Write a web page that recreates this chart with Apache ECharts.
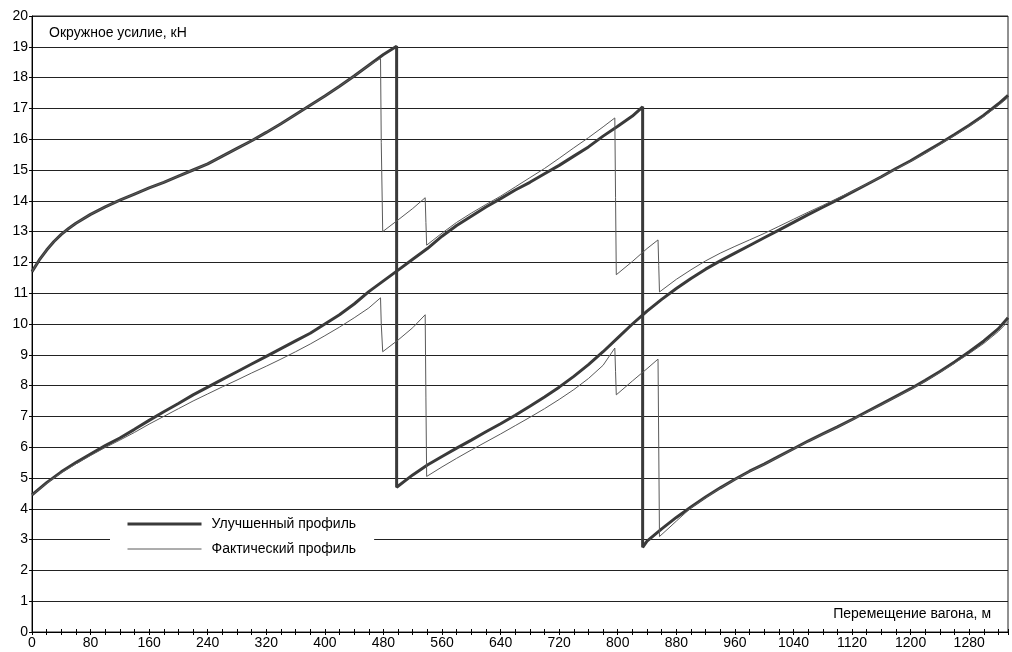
<!DOCTYPE html>
<html><head><meta charset="utf-8">
<script src="https://cdn.jsdelivr.net/npm/echarts@6/dist/echarts.min.js"></script>
<style>html,body{margin:0;padding:0;background:#fff}#c{width:1012px;height:652px}</style>
</head><body><div id="c"></div>
<script>
// Data: [distance m, force kN]
const improvedA = [[0,11.7],[10,12.08],[20,12.4],[30,12.68],[40,12.91],[50,13.1],[60,13.27],[80,13.56],[100,13.8],[120,14.02],[140,14.22],[160,14.42],[180,14.6],[200,14.8],[220,15.0],[240,15.2],[260,15.45],[280,15.7],[300,15.95],[320,16.22],[340,16.5],[360,16.8],[380,17.1],[400,17.4],[420,17.72],[440,18.05],[460,18.4],[480,18.75],[498,19.02],[498,4.7],[520,5.1],[540,5.42],[560,5.7],[580,5.97],[600,6.23],[620,6.5],[640,6.76],[660,7.04],[680,7.33],[700,7.63],[720,7.95],[740,8.3],[760,8.68],[780,9.1],[800,9.55],[820,10.0],[840,10.42],[860,10.8],[880,11.15],[900,11.48],[920,11.78],[940,12.05],[960,12.3],[980,12.55],[1000,12.8],[1020,13.05],[1040,13.3],[1060,13.55],[1080,13.79],[1100,14.03],[1120,14.28],[1140,14.53],[1160,14.78],[1180,15.05],[1200,15.3],[1220,15.58],[1240,15.86],[1260,16.15],[1280,16.45],[1300,16.78],[1320,17.15],[1333,17.42]];
const improvedB = [[0,4.45],[20,4.85],[40,5.2],[60,5.5],[80,5.78],[100,6.05],[120,6.3],[140,6.58],[160,6.87],[180,7.15],[200,7.42],[220,7.7],[240,7.95],[260,8.2],[280,8.45],[300,8.7],[320,8.95],[340,9.2],[360,9.45],[380,9.7],[400,10.0],[420,10.3],[440,10.65],[460,11.05],[480,11.4],[500,11.75],[520,12.1],[540,12.45],[560,12.85],[580,13.2],[600,13.5],[620,13.8],[640,14.07],[660,14.35],[680,14.6],[700,14.88],[720,15.15],[740,15.45],[760,15.75],[780,16.1],[800,16.42],[820,16.75],[834,17.05],[834,2.75],[840,2.95],[860,3.35],[880,3.72],[900,4.06],[920,4.38],[940,4.68],[960,4.96],[980,5.22],[1000,5.45],[1020,5.7],[1040,5.95],[1060,6.2],[1080,6.43],[1100,6.66],[1120,6.9],[1140,7.15],[1160,7.4],[1180,7.65],[1200,7.9],[1220,8.17],[1240,8.46],[1260,8.77],[1280,9.1],[1300,9.45],[1320,9.85],[1333,10.2]];
const actualA = [[0,11.7],[10,12.08],[20,12.4],[30,12.68],[40,12.91],[50,13.1],[60,13.27],[80,13.56],[100,13.8],[120,14.02],[140,14.22],[160,14.42],[180,14.6],[200,14.8],[220,15.0],[240,15.2],[260,15.45],[280,15.7],[300,15.95],[320,16.22],[340,16.5],[360,16.8],[380,17.1],[400,17.4],[420,17.72],[440,18.05],[460,18.4],[476,18.62],[477,15.9],[479,13.0],[500,13.38],[520,13.75],[537,14.1],[538,13.3],[539,12.56],[560,12.95],[580,13.3],[600,13.6],[620,13.88],[640,14.15],[660,14.45],[680,14.75],[700,15.05],[720,15.38],[740,15.72],[760,16.05],[780,16.4],[796,16.69],[797,14.1],[798,11.6],[820,12.03],[840,12.45],[855,12.73],[856,11.9],[857,11.04],[880,11.45],[900,11.76],[920,12.05],[940,12.3],[960,12.52],[980,12.73],[1000,12.94],[1020,13.17],[1040,13.4],[1060,13.63],[1080,13.85],[1100,14.08],[1120,14.3],[1140,14.54],[1160,14.78],[1180,15.03],[1200,15.28],[1220,15.55],[1240,15.83],[1260,16.12],[1280,16.42],[1300,16.74],[1320,17.1],[1333,17.35]];
const actualB = [[0,4.45],[20,4.83],[40,5.17],[60,5.46],[80,5.73],[100,5.99],[120,6.23],[140,6.48],[160,6.75],[180,7.0],[200,7.25],[220,7.5],[240,7.73],[260,7.96],[280,8.18],[300,8.41],[320,8.63],[340,8.86],[360,9.1],[380,9.35],[400,9.62],[420,9.9],[440,10.2],[460,10.52],[476,10.85],[477,10.0],[479,9.1],[500,9.48],[520,9.88],[537,10.3],[538,7.6],[539,5.05],[560,5.36],[580,5.64],[600,5.91],[620,6.17],[640,6.43],[660,6.7],[680,6.97],[700,7.25],[720,7.55],[740,7.87],[760,8.23],[780,8.66],[796,9.22],[797,8.45],[798,7.7],[820,8.15],[840,8.55],[855,8.86],[856,6.0],[857,3.1],[870,3.38],[880,3.6],[900,4.03],[920,4.36],[940,4.67],[960,4.95],[980,5.21],[1000,5.44],[1020,5.69],[1040,5.94],[1060,6.19],[1080,6.42],[1100,6.65],[1120,6.89],[1140,7.13],[1160,7.38],[1180,7.63],[1200,7.88],[1220,8.14],[1240,8.43],[1260,8.73],[1280,9.04],[1300,9.37],[1320,9.76],[1333,10.08]];

const seriesNames = ['Улучшенный профиль', 'Фактический профиль'];
const yTitle = 'Окружное усилие, кН';
const xTitle = 'Перемещение вагона, м';
const X_MAX = 1333, X_MINOR = 20, X_LABEL_STEP = 80;
const Y_MIN = 0, Y_MAX = 20, Y_STEP = 1;

const FONT = '"Liberation Sans", Arial, sans-serif';
const chart = echarts.init(document.getElementById('c'));
const thick = {color:'#3a3a3a', width:3};
const thin = {color:'#5a5a5a', width:1};
chart.setOption({
  animation:false,
  backgroundColor:'#fff',
  grid:{left:32,right:4,top:16,bottom:20,show:true,borderColor:'#222',borderWidth:1},
  xAxis:[{
    type:'value',min:0,max:X_MAX,interval:X_MINOR,position:'bottom',
    axisLine:{show:true,lineStyle:{color:'#000',width:1}},
    axisTick:{show:true,length:3,lineStyle:{color:'#000'}},
    axisLabel:{formatter:v=> (v % X_LABEL_STEP === 0 ? String(v) : ''),margin:4,color:'#000',fontSize:14,fontFamily:FONT},
    splitLine:{show:false}
  },{
    type:'value',min:0,max:X_MAX,interval:X_MINOR,position:'bottom',
    axisLine:{show:false},
    axisTick:{show:true,inside:true,length:3,lineStyle:{color:'#000'}},
    axisLabel:{show:false},splitLine:{show:false}
  }],
  yAxis:{
    type:'value',min:Y_MIN,max:Y_MAX,interval:Y_STEP,
    axisLine:{show:true,lineStyle:{color:'#000',width:1}},
    axisTick:{show:true,length:3,lineStyle:{color:'#000'}},
    axisLabel:{margin:4,color:'#000',fontSize:14,fontFamily:FONT},
    splitLine:{show:true,lineStyle:{color:'#222',width:1}}
  },
  legend:{
    data:[
      {name:seriesNames[0],itemStyle:{opacity:0},lineStyle:{width:3,color:thick.color}},
      {name:seriesNames[1],itemStyle:{opacity:0},lineStyle:{width:1,color:thin.color}}
    ],
    orient:'vertical',left:110,top:510,
    backgroundColor:'#fff',padding:[7,18,10,16],
    itemWidth:74,itemHeight:14,itemGap:11,
    itemStyle:{opacity:0},
    textStyle:{color:'#000',fontSize:14,fontFamily:FONT,padding:[0,0,0,5]}
  },
  graphic:[
    {type:'text',left:49,top:26,style:{text:yTitle,font:'14px '+FONT,fill:'#000'}},
    {type:'text',right:21,top:607,style:{text:xTitle,font:'14px '+FONT,fill:'#000'}}
  ],
  series:[
    {name:seriesNames[0],type:'line',data:improvedA,symbol:'none',lineStyle:thick,itemStyle:{color:thick.color},z:3},
    {name:seriesNames[0],type:'line',data:improvedB,symbol:'none',lineStyle:thick,itemStyle:{color:thick.color},z:3},
    {name:seriesNames[1],type:'line',data:actualA,symbol:'none',lineStyle:thin,itemStyle:{color:thin.color},z:4},
    {name:seriesNames[1],type:'line',data:actualB,symbol:'none',lineStyle:thin,itemStyle:{color:thin.color},z:4}
  ]
});
</script></body></html>
